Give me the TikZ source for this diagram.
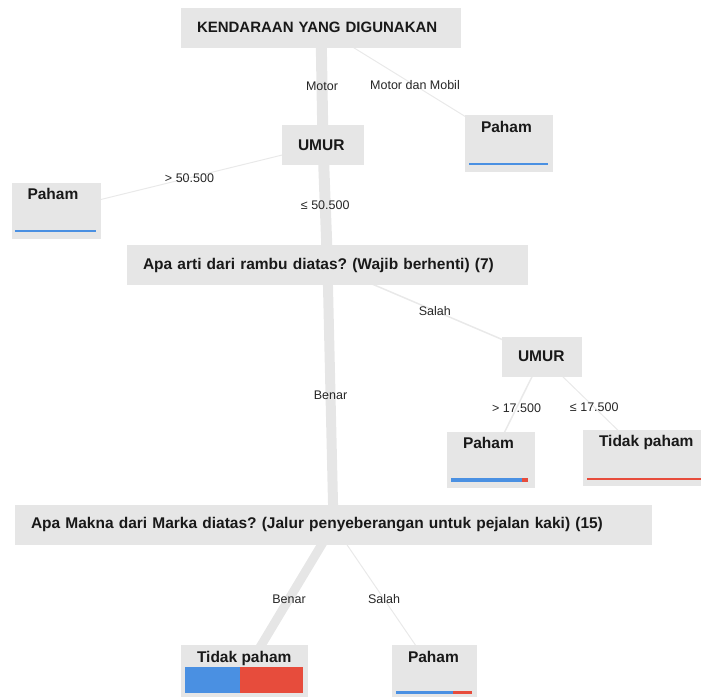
\documentclass[tikz,border=0pt]{standalone}
\usepackage{fontspec}
\setmainfont{Liberation Sans}
\usetikzlibrary{backgrounds}
\definecolor{boxgray}{RGB}{230,230,230}
\definecolor{edgegray}{RGB}{233,233,233}
\definecolor{barblue}{RGB}{74,144,226}
\definecolor{barred}{RGB}{231,76,60}
\tikzstyle{split} = [fill=boxgray, inner xsep=16pt, inner ysep=0pt,
minimum height=40pt, align=left, text=black!90,
font=\fontsize{15.5}{18}\selectfont\bfseries\frenchspacing]
\tikzstyle{leaf} = [fill=boxgray, inner sep=0pt, minimum height=56pt]
\tikzstyle{twig} = [draw=edgegray, line width=1pt]
\tikzstyle{trunk} = [draw=boxgray]

\begin{document}
\begin{tikzpicture}[x=1pt, y=-1pt,
    ltext/.style={anchor=north west, inner sep=0pt, xshift=16pt, yshift=-6pt,
    font=\fontsize{15.5}{18}\selectfont\bfseries, text=black!90},
    elabel/.style={midway, inner sep=1pt, font=\fontsize{12.5}{15}\selectfont, text=black!85}]
    \useasboundingbox (0,0) rectangle (701,696);
    %% Split nodes
    \node[split, text width=248pt, font=\fontsize{15}{18}\selectfont\bfseries] (root) at (321,27.5) {\mbox{KENDARAAN YANG DIGUNAKAN}};
    \node[split, text width=50pt] (umur1) at (323,145) {UMUR};
    \node[split, text width=369pt] (q1) at (327.5,265) {Apa arti dari rambu diatas? (Wajib berhenti) (7)};
    \node[split, text width=48pt] (umur2) at (542,356.5) {UMUR};
    \node[split, text width=605pt] (q2) at (333.5,525) {Apa Makna dari Marka diatas? (Jalur penyeberangan untuk pejalan kaki) (15)};
    %% Leaves
    \node[leaf, minimum width=88pt, minimum height=57pt, label={[ltext]north west:Paham}] (pahamR) at (509,143.5) {};
    \node[leaf, minimum width=89pt, label={[ltext]north west:Paham}] (pahamL) at (56,210.5) {};
    \node[leaf, minimum width=88pt, label={[ltext]north west:Paham}] (pahamM) at (491,459.5) {};
    \node[leaf, minimum width=127pt, label={[ltext, yshift=1pt]north west:Tidak paham}] (tidakM) at (646.5,458) {};
    \node[leaf, minimum width=127pt, label={[ltext]north west:Tidak paham}] (tidakB) at (244.5,673) {};
    \node[leaf, minimum width=85pt, label={[ltext]north west:Paham}] (pahamB) at (434.5,673) {};
    %% Class bars
    \fill[barblue] ([shift={(4,-7)}]pahamR.south west) rectangle ([shift={(-5,-9)}]pahamR.south east);
    \fill[barblue] ([shift={(4,-7)}]pahamL.south west) rectangle ([shift={(-5,-9)}]pahamL.south east);
    \fill[barblue] ([shift={(4,-6)}]pahamM.south west) rectangle ++(71,-4);
    \fill[barred] ([shift={(75,-6)}]pahamM.south west) rectangle ++(6,-4);
    \fill[barred] ([shift={(4,-6)}]tidakM.south west) rectangle ([shift={(-5,-8)}]tidakM.south east);
    \fill[barblue] ([shift={(4,-8)}]tidakB.south west) rectangle ++(55,-26);
    \fill[barred] ([shift={(59,-8)}]tidakB.south west) rectangle ++(63,-26);
    \fill[barblue] ([shift={(4,-7)}]pahamB.south west) rectangle ++(57,-3);
    \fill[barred] ([shift={(61,-7)}]pahamB.south west) rectangle ++(19,-3);
    %% Edges (center to center, behind the boxes)
    \begin{scope}[on background layer]
    \path [trunk, line width=11pt] (root.center) -- node[elabel] {Motor} (umur1.center);
    \path [twig] (root.center) -- node[elabel] {Motor dan Mobil} (pahamR.center);
    \path [twig] (umur1.center) -- node[elabel] {> 50.500} (pahamL.center);
    \path [trunk, line width=11pt] (umur1.center) -- node[elabel] {≤ 50.500} (q1.center);
    \path [trunk, line width=10pt] (q1.center) -- node[elabel] {Benar} (q2.center);
    \path [twig, line width=1.5pt] (q1.center) -- node[elabel] {Salah} (umur2.center);
    \path [twig, line width=1.5pt] (umur2.center) -- node[elabel] {> 17.500} (pahamM.center);
    \path [twig] (umur2.center) -- node[elabel] {≤ 17.500} (tidakM.center);
    \path [trunk, line width=9pt] (q2.center) -- node[elabel] {Benar} (tidakB.center);
    \path [twig] (q2.center) -- node[elabel] {Salah} (pahamB.center);
    \end{scope}
\end{tikzpicture}
\end{document}
